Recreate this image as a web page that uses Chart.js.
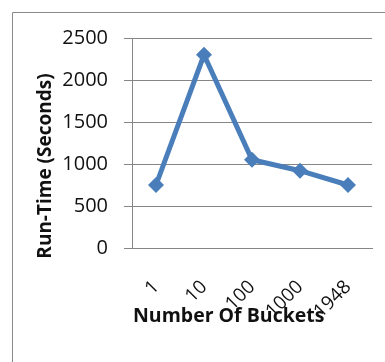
<!DOCTYPE html>
<html>
<head>
<meta charset="utf-8">
<script src="https://cdn.jsdelivr.net/npm/chart.js@4"></script>
<style>
  body { margin: 0; background: #fff; }
</style>
</head>
<body>
<canvas id="runTimeChart" width="385" height="362"></canvas>
<script>
var buckets = ['1', '10', '100', '1000', '1948'];
var runTimes = [750, 2300, 1050, 920, 750];
var yTicks = [0, 500, 1000, 1500, 2000, 2500];

var yTitle = 'Run-Time (Seconds)';
var xTitle = 'Number Of Buckets';

// outer frame + Excel-style axis titles
var decorations = {
  id: 'decorations',
  beforeDraw: function (chart) {
    var c = chart.ctx;
    c.save();
    c.strokeStyle = '#8a8a8a';
    c.lineWidth = 1;
    c.beginPath();
    c.moveTo(12.5, chart.height);
    c.lineTo(12.5, 12.5);
    c.lineTo(chart.width, 12.5);
    c.stroke();
    c.restore();
  },
  afterDraw: function (chart) {
    var c = chart.ctx;
    c.save();
    c.fillStyle = '#111';
    c.font = 'bold 19.5px "Open Sans"';
    c.textAlign = 'left';
    c.textBaseline = 'alphabetic';
    c.fillText(xTitle, chart.chartArea.left + 1, 322);
    c.font = 'bold 19px "Open Sans"';
    c.translate(51, 166);
    c.rotate(-Math.PI / 2);
    c.textAlign = 'center';
    c.fillText(yTitle, 0, 0);
    c.restore();
  }
};

var ctx = document.getElementById('runTimeChart');
var runTimeChart = new Chart(ctx, {
  type: 'line',
  data: {
    labels: buckets,
    datasets: [{
      label: 'Run-Time',
      data: runTimes,
      borderColor: '#4A7EBB',
      backgroundColor: '#4A7EBB',
      borderWidth: 5,
      tension: 0,
      pointStyle: 'rectRot',
      pointRadius: 8,
      pointHoverRadius: 8,
      pointBorderWidth: 0
    }]
  },
  options: {
    responsive: false,
    animation: false,
    layout: {
      padding: { top: 38, right: 13, bottom: 0, left: 0 }
    },
    scales: {
      x: {
        offset: true,
        afterFit: function (scale) {
          scale.height = 114;
          scale.paddingLeft = 0;
          scale.paddingRight = 0;
        },
        grid: { display: false, drawTicks: false },
        border: { display: true, color: '#868686', width: 1 },
        ticks: {
          autoSkip: false,
          minRotation: 45,
          maxRotation: 45,
          padding: 28,
          color: '#111',
          font: { family: 'Open Sans', size: 19 }
        }
      },
      y: {
        min: 0,
        max: 2500,
        afterFit: function (scale) { scale.width = 132; },
        afterBuildTicks: function (scale) {
          scale.ticks = yTicks.map(function (v) { return { value: v }; });
        },
        grid: { color: '#868686', tickLength: 8, lineWidth: 1 },
        border: { display: true, color: '#868686', width: 1 },
        ticks: {
          padding: 16,
          color: '#111',
          font: { family: 'Open Sans', size: 20 },
          callback: function (v) { return String(v); }
        }
      }
    },
    plugins: {
      legend: { display: false },
      tooltip: { enabled: false }
    }
  },
  plugins: [decorations]
});
</script>
</body>
</html>
